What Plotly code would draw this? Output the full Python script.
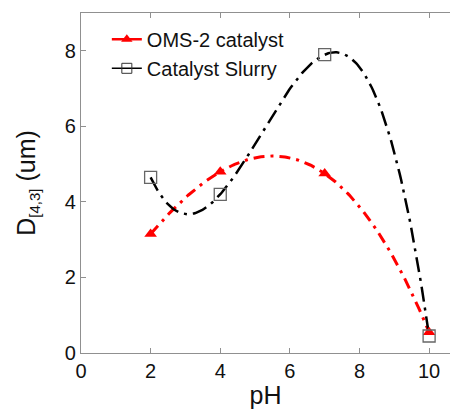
import numpy as np
import plotly.graph_objects as go

ph = [2, 4, 7, 10]
oms2 = [3.15, 4.8, 4.75, 0.55]
slurry = [4.65, 4.2, 7.9, 0.45]
x_ticks = [0, 2, 4, 6, 8, 10]
y_ticks = [0, 2, 4, 6, 8]

FONT = "Liberation Sans, Arial, sans-serif"

def fit_curve(x, y):
    c = np.polyfit(x, y, 3)
    xs = np.linspace(min(x), max(x), 200)
    return xs, np.polyval(c, xs)

fig = go.Figure()

xr, yr = fit_curve(ph, oms2)
xb, yb = fit_curve(ph, slurry)

fig.add_trace(go.Scatter(x=xr, y=yr, mode="lines", showlegend=False,
                         line=dict(color="#ff0000", width=3, dash="11px,6px,3px,6px")))
fig.add_trace(go.Scatter(x=xb, y=yb, mode="lines", showlegend=False,
                         line=dict(color="#000000", width=2.5, dash="15px,6px,3px,6px")))

fig.add_trace(go.Scatter(x=ph, y=oms2, mode="markers", showlegend=False,
                         marker=dict(symbol="triangle-up", size=11, color="#ff0000")))
fig.add_trace(go.Scatter(x=ph, y=slurry, mode="markers", showlegend=False,
                         marker=dict(symbol="square-open", size=12, color="#666666",
                                     line=dict(width=1.3))))

# legend entries
fig.add_trace(go.Scatter(x=[None], y=[None], mode="lines+markers", name="OMS-2 catalyst",
                         line=dict(color="#ff0000", width=2.5),
                         marker=dict(symbol="triangle-up", size=10, color="#ff0000")))
fig.add_trace(go.Scatter(x=[None], y=[None], mode="lines+markers", name="Catalyst Slurry",
                         line=dict(color="#000000", width=1.5),
                         marker=dict(symbol="square-open", size=10, color="#333333")))

axis_common = dict(
    showgrid=False, zeroline=False, showline=True, linecolor="#909090", linewidth=1.2,
    ticks="inside", ticklen=5, tickcolor="#909090", tickwidth=1,
    tickfont=dict(family=FONT, size=20, color="#111111"),
)

fig.update_layout(
    width=450, height=409,
    margin=dict(l=81, r=0, t=13, b=56),
    paper_bgcolor="white", plot_bgcolor="white",
    font=dict(family=FONT, color="#111111"),
    xaxis=dict(range=[0, 10.6], tickvals=x_ticks, mirror="ticks",
               title=dict(text="pH", font=dict(size=25), standoff=6), **axis_common),
    yaxis=dict(range=[0, 9.0], tickvals=y_ticks,
               title=dict(text="D<sub><span style='font-size:15px'>[4,3]</span></sub> (um)",
                          font=dict(size=25), standoff=22),
               **axis_common),
    legend=dict(x=0.07, y=0.98, xanchor="left", yanchor="top",
                bgcolor="rgba(0,0,0,0)", font=dict(family=FONT, size=20),
                itemwidth=30, tracegroupgap=0),
    showlegend=True,
)

fig.write_html("out.html")
